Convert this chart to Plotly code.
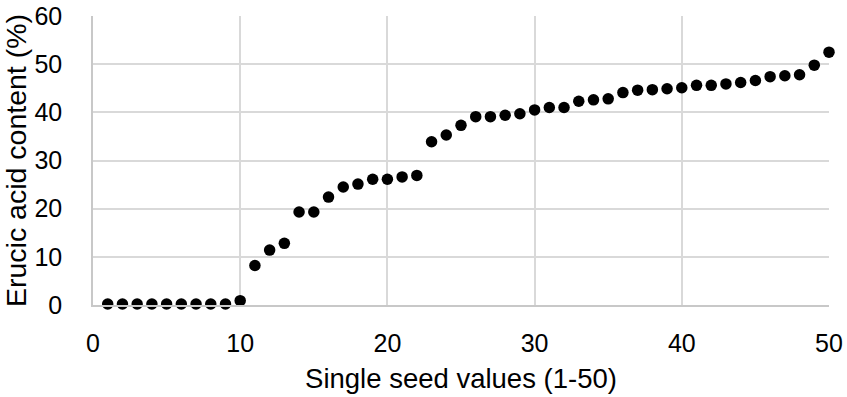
import plotly.graph_objects as go

# Erucic acid content of 50 single seeds, sorted ascending
seed_index = list(range(1, 51))
erucic_acid = [
    0.2, 0.2, 0.2, 0.2, 0.2, 0.2, 0.2, 0.2, 0.2, 0.9,
    8.2, 11.4, 12.8, 19.3, 19.3, 22.4, 24.5, 25.1, 26.1, 26.1,
    26.6, 26.9, 33.9, 35.3, 37.3, 39.1, 39.1, 39.4, 39.7, 40.5,
    41.0, 41.0, 42.3, 42.6, 42.8, 44.1, 44.6, 44.7, 44.9, 45.1,
    45.6, 45.6, 45.9, 46.2, 46.6, 47.4, 47.6, 47.8, 49.8, 52.5,
]
x_ticks = [0, 10, 20, 30, 40, 50]
y_ticks = [0, 10, 20, 30, 40, 50, 60]

FONT = "Liberation Sans, Arial, sans-serif"
GRID = "#d9d9d9"

fig = go.Figure(
    go.Scatter(
        x=seed_index,
        y=erucic_acid,
        mode="markers",
        marker=dict(size=11.5, color="black", line=dict(width=0)),
        showlegend=False,
        cliponaxis=False,
    )
)

fig.update_layout(
    width=847,
    height=397,
    margin=dict(l=93, r=18, t=16, b=92),
    paper_bgcolor="white",
    plot_bgcolor="white",
    font=dict(family=FONT, color="black"),
)

fig.update_xaxes(
    range=[0, 50],
    tickvals=x_ticks,
    tickfont=dict(size=25),
    showgrid=True,
    gridcolor=GRID,
    gridwidth=1.5,
    showline=True,
    linecolor="#c8c8c8",
    linewidth=1.5,
    zeroline=False,
    ticks="",
    automargin=False,
    ticklabelstandoff=15,
    title=dict(text="Single seed values (1-50)", font=dict(size=27.5), standoff=13),
)

fig.update_yaxes(
    range=[0, 60],
    tickvals=y_ticks,
    tickfont=dict(size=25),
    showgrid=True,
    gridcolor=GRID,
    gridwidth=1.5,
    showline=True,
    linecolor="#c8c8c8",
    linewidth=1.5,
    zeroline=False,
    ticks="",
    automargin=False,
    ticklabelstandoff=24,
    title=dict(text="Erucic acid content (%)", font=dict(size=28.5), standoff=8),
)

fig.write_html("out.html")
